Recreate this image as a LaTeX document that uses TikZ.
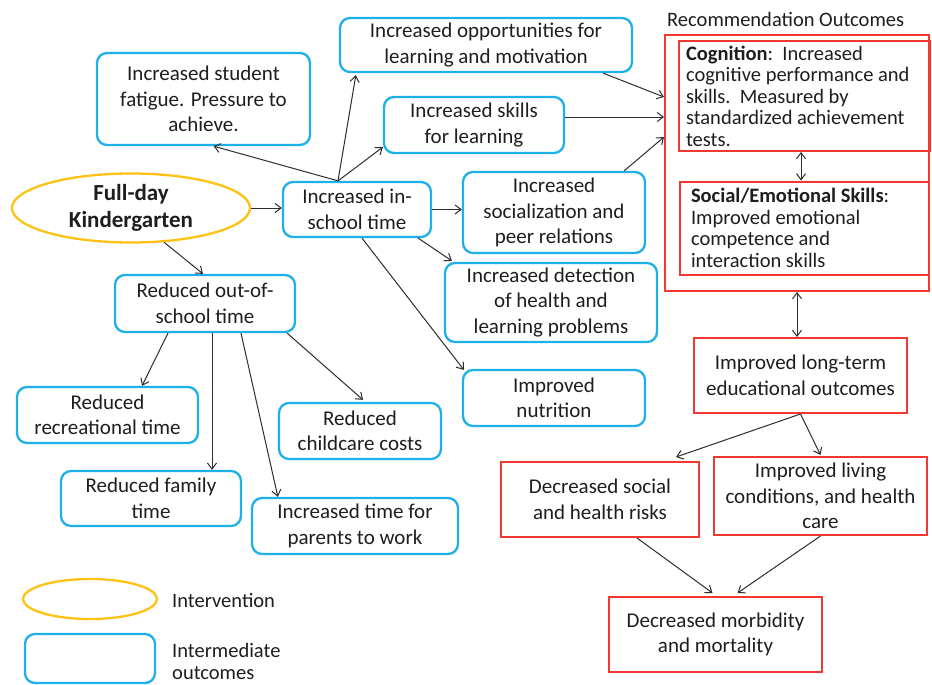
\documentclass[tikz,border=0pt]{standalone}
\usepackage{fontspec}
\setmainfont{Carlito}
\usetikzlibrary{arrows.meta,shapes.geometric,calc}
\definecolor{bluebd}{RGB}{30,176,232}
\definecolor{redbd}{RGB}{245,55,50}
\definecolor{goldbd}{RGB}{255,194,20}
\definecolor{txt}{RGB}{30,30,30}
\definecolor{arrc}{RGB}{45,45,45}
\begin{document}
\begin{tikzpicture}[x=1pt,y=-1pt,
  every node/.style={text=txt},
  bluebox/.style={draw=bluebd,line width=2.3pt,rounded corners=10pt,align=center,
    font=\fontsize{21}{25.5}\selectfont,inner sep=0pt},
  redbox/.style={draw=redbd,line width=2pt,align=center,
    font=\fontsize{21}{25.5}\selectfont,inner sep=0pt},
  interv/.style={draw=goldbd,line width=2.3pt,ellipse,inner sep=0pt,align=center},
  arr/.style={draw=arrc,line width=1pt,-{Straight Barb[length=6pt,width=9pt]}},
  darr/.style={draw=arrc,line width=1pt,{Straight Barb[length=6pt,width=9pt]}-{Straight Barb[length=6pt,width=9pt]}},
  sz/.style n args={2}{minimum width=#1,minimum height=#2}
]
\fill[white] (0,0) rectangle (932,685);
\path[use as bounding box] (0,0) rectangle (932,685);

% intervention
\node[interv,sz={238pt}{69pt},font=\fontsize{23}{27}\selectfont\bfseries] (fdk) at (131,208) {Full-day\\Kindergarten};

% blue intermediate outcomes
\node[bluebox,sz={292pt}{54pt}] (opp) at (486,45) {Increased opportunities for\\learning and motivation};
\node[bluebox,sz={213pt}{92pt}] (fat) at (203.5,99) {Increased student\\fatigue. Pressure to\\achieve.};
\node[bluebox,sz={180pt}{56pt}] (skl) at (474,125) {Increased skills\\for learning};
\node[bluebox,sz={148pt}{55pt}] (insch) at (357,209.5) {Increased in-\\school time};
\node[bluebox,sz={182pt}{81pt}] (soc) at (554,212.5) {Increased\\socialization and\\peer relations};
\node[bluebox,sz={212pt}{79pt}] (det) at (551,302.5) {Increased detection\\of health and\\learning problems};
\node[bluebox,sz={182pt}{56pt}] (nut) at (554,398) {Improved\\nutrition};
\node[bluebox,sz={180pt}{57pt}] (outs) at (205,303.5) {Reduced out-of-\\school time};
\node[bluebox,sz={181pt}{56pt}] (rec) at (107.5,415) {Reduced\\recreational time};
\node[bluebox,sz={162pt}{56pt}] (chc) at (360,431) {Reduced\\childcare costs};
\node[bluebox,sz={180pt}{55pt}] (fam) at (151,498.5) {Reduced family\\time};
\node[bluebox,sz={206pt}{56pt}] (par) at (355,526) {Increased time for\\parents to work};

% recommendation outcomes
\node[font=\fontsize{20.5}{24}\selectfont,anchor=west,inner sep=0pt] (rolab) at (667,19) {Recommendation Outcomes};
\node[redbox,sz={264pt}{256pt}] (outer) at (797,163) {};
\node[redbox,sz={251pt}{110pt},align=flush left,text width=236pt,font=\fontsize{20.5}{21.5}\selectfont] (cog) at (804,96)
  {\textbf{Cognition}:\ \ Increased\\cognitive performance and\\skills.\ \ Measured by\\standardized achievement\\tests.};
\node[redbox,sz={249pt}{93pt},align=flush left,text width=227pt,font=\fontsize{20.5}{21.5}\selectfont] (sem) at (804.5,228)
  {\textbf{Social/Emotional Skills}:\\Improved emotional\\competence and\\interaction skills};
\node[redbox,sz={213pt}{75pt}] (lte) at (800.5,375.5) {Improved long-term\\educational outcomes};
\node[redbox,sz={198pt}{75pt}] (dsr) at (600,499.5) {Decreased social\\and health risks};
\node[redbox,sz={213pt}{78pt}] (ilc) at (820.5,496) {Improved living\\conditions, and health\\care};
\node[redbox,sz={213pt}{75pt}] (dmm) at (715.5,634.5) {Decreased morbidity\\and mortality};

% legend
\node[interv,sz={134pt}{40pt}] (legell) at (90,599) {};
\node[font=\fontsize{20.5}{22}\selectfont,anchor=west,inner sep=0pt] (legt1) at (172,600) {Intervention};
\node[draw=bluebd,line width=2.3pt,rounded corners=10pt,sz={130pt}{49pt}] (legbox) at (90,658.5) {};
\node[font=\fontsize{20.5}{22}\selectfont,anchor=west,align=left,inner sep=0pt] (legt2) at (172,661) {Intermediate\\outcomes};

% connectors
\draw[arr] (fdk.east) -- (fdk.east -| insch.west);
\draw[arr] (fdk.-46) -- ([xshift=-2pt]outs.north);
\coordinate (hub) at ([xshift=-19pt]insch.north);
\draw[arr] (hub) -- ([xshift=17pt,yshift=-2pt]opp.south west);
\draw[arr] (hub) -- ([xshift=10pt]fat.south);
\draw[arr] (hub) -- ([yshift=7pt]skl.south west);
\draw[arr] (insch.east) -- (insch.east -| soc.west);
\draw[arr] ([xshift=-14pt]insch.south east) -- ([xshift=8pt,yshift=1pt]det.north west);
\draw[arr] ([xshift=5pt]insch.south) -- ([xshift=2pt,yshift=-1pt]nut.north west);
\draw[arr] ([xshift=-30pt]opp.south east) -- ([yshift=66pt]outer.west);
\draw[arr] ([yshift=8pt]skl.east) -- ([yshift=8pt]skl.east -| outer.west);
\draw[arr] ([xshift=-22pt]soc.north east) -- ([yshift=26pt]outer.west);
\draw[arr] ([xshift=-37pt]outs.south) -- ([xshift=34.5pt]rec.north);
\draw[arr] ([xshift=7pt]outs.south) -- ([xshift=7pt]outs.south |- fam.north);
\draw[arr] ([xshift=36pt]outs.south) -- ([xshift=27pt]par.north west);
\draw[arr] ([xshift=-9pt]outs.south east) -- ([xshift=3pt,yshift=2pt]chc.north);
\draw[darr] ([xshift=-3pt]cog.south) -- ([xshift=-3pt]cog.south |- sem.north);
\draw[darr] (outer.south) -- (outer.south |- lte.north);
\draw[arr] (lte.south) -- ([xshift=-24pt,yshift=4pt]dsr.north east);
\draw[arr] (lte.south) -- ([yshift=1pt]ilc.north);
\draw[arr] ([xshift=37pt]dsr.south) -- ([xshift=-3pt,yshift=3pt]dmm.north);
\draw[arr] (ilc.south) -- ([xshift=22pt,yshift=3pt]dmm.north);
\end{tikzpicture}
\end{document}
